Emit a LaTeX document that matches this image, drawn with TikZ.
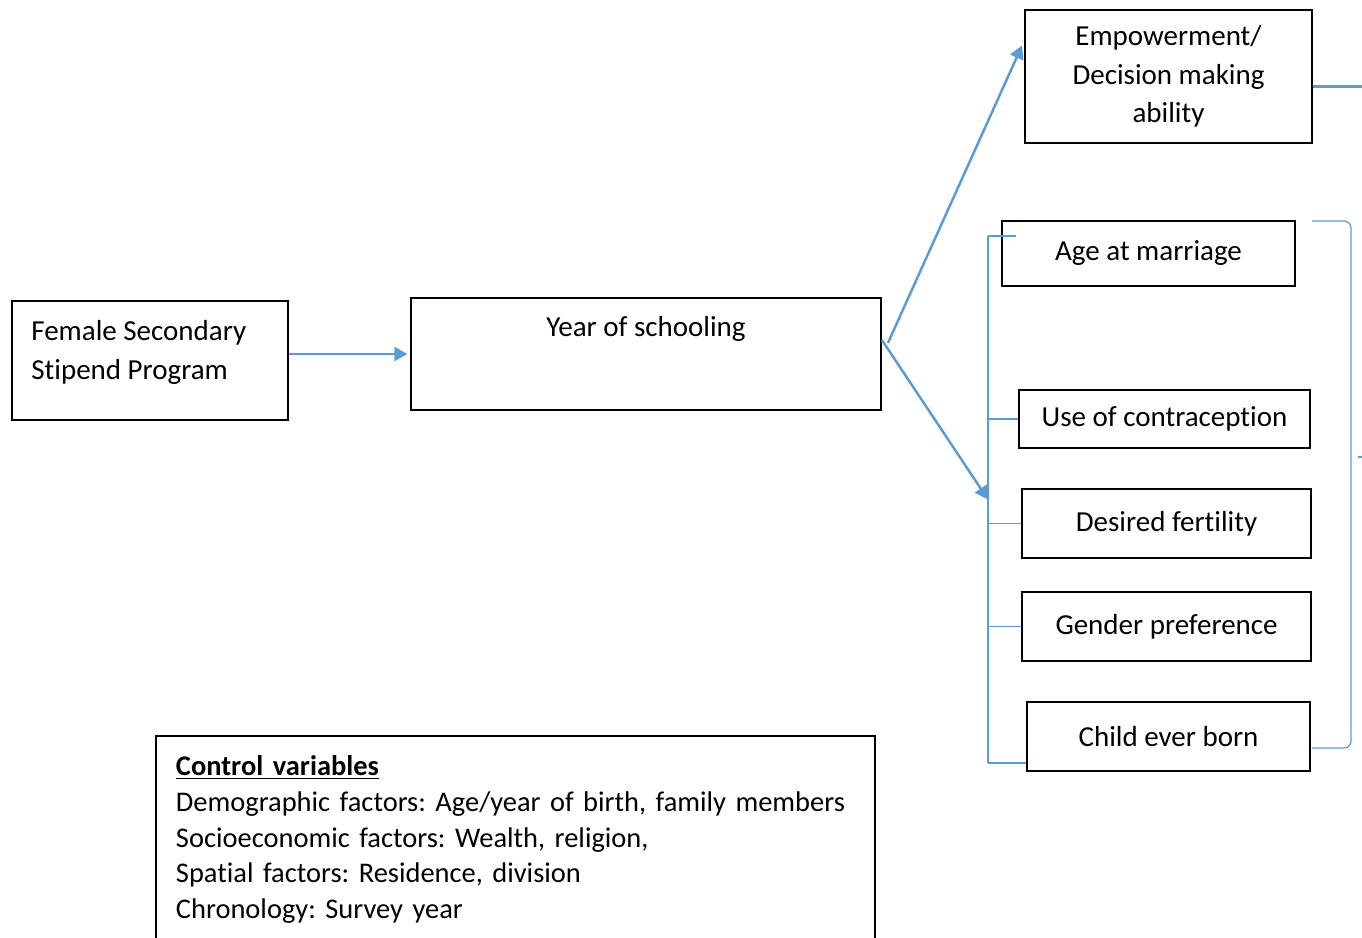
\documentclass[tikz,border=0pt]{standalone}
\usepackage{fontspec}
\setmainfont{Carlito}[Ligatures=NoCommon]
\frenchspacing
\usetikzlibrary{arrows.meta, calc}
\tikzset{every node/.style={font=\fontsize{16.5}{22}\selectfont}}
\colorlet{boxcol}{black}
\definecolor{linkcol}{RGB}{91,155,213}

\begin{document}
\begin{tikzpicture}[x=0.02cm, y=-0.02cm, >={Triangle[length=7.5pt, width=8pt]},
  box/.style={draw=boxcol, line width=1.1pt, inner sep=0pt, align=center},
  link/.style={->, line width=1.4pt, linkcol},
  brace/.style={line width=0.7pt, linkcol}]

  \useasboundingbox (0,0) rectangle (1362,937);

  % Left part: programme and schooling.
  \node[box, minimum width=5.52cm, minimum height=2.38cm,
    label={[anchor=north west, inner sep=0.4cm, align=left]north west:Female Secondary\\Stipend Program}]
    (fssp) at (150,360.5) {};
  \node[box, minimum width=9.4cm, minimum height=2.24cm,
    label={[anchor=north, inner sep=0.38cm]north:Year of schooling}]
    (school) at (646,354) {};

  % Outcomes.
  \node[box, minimum width=5.74cm, minimum height=2.66cm]
    (empower) at (1168.5,76.5) {Empowerment/\\Decision making\\ability};
  \node[box, minimum width=5.86cm, minimum height=1.3cm]
    (marriage) at (1148.5,253.5) {Age at marriage};
  \node[box, minimum width=5.82cm, minimum height=1.16cm]
    (contra) at (1164.5,419) {Use of contraception};
  \node[box, minimum width=5.78cm, minimum height=1.38cm]
    (fertility) at (1166.5,523.5) {Desired fertility};
  \node[box, minimum width=5.78cm, minimum height=1.38cm]
    (gender) at (1166.5,626.5) {Gender preference};
  \node[box, minimum width=5.66cm, minimum height=1.38cm]
    (born) at (1168.5,736.5) {Child ever born};

  % Control variables (bottom edge runs off the page).
  \node[box, anchor=north west, align=left, text width=13.58cm,
    inner xsep=0.4cm, inner ysep=0.4cm,
    font=\fontsize{16.2}{20.3}\selectfont] (control) at (155,735)
    {\textbf{\underline{Control variables}}\\
     Demographic factors: Age/year of birth, family members\\
     Socioeconomic factors: Wealth, religion,\\
     Spatial factors: Residence, division\\
     Chronology: Survey year};

  % Left bracket round the fertility outcomes.
  \coordinate (brtop) at (988,236);
  \coordinate (brbot) at (988,763);
  \draw[brace] (brtop) -- (brbot);
  \draw[brace] (brtop) -- ++(28,0);
  \draw[brace] (brtop |- contra.west) -- (contra.west);
  \draw[brace] (brtop |- fertility.west) -- (fertility.west);
  \draw[brace] (brtop |- gender.west) -- (gender.west);
  \draw[brace] (brbot) -- (brbot -| born.west);

  % Right bracket.
  \coordinate (rtop) at (1312,221);
  \coordinate (rbot) at (1312,748);
  \draw[brace, rounded corners=4pt] (rtop) -| (1351,485) |- (rbot);
  \draw[brace] (1358,457) -- (1362,457);

  % Arrows.
  \draw[link, shorten >=1.5pt] (fssp.east |- school.west) -- (school.west);
  \draw[link] ([shift={(6,-11)}]school.east) -- ([shift={(-2,-31)}]empower.west);
  \draw[link] ([shift={(0,-14)}]school.east) -- ($(brtop)!.5!(brbot)$);
  \draw[linkcol, line width=1.4pt] ([shift={(0,10)}]empower.east) -- ++(60,0);

\end{tikzpicture}
\end{document}
